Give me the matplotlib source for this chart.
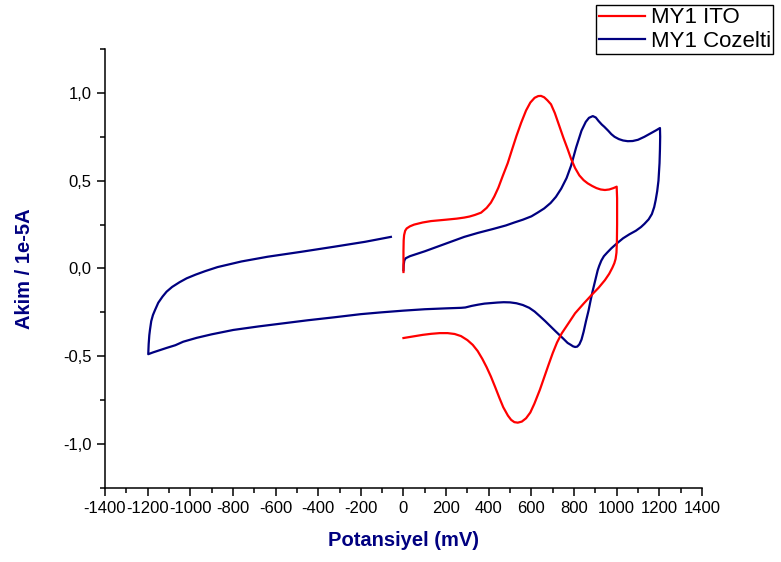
import matplotlib
matplotlib.use("Agg")
import matplotlib.pyplot as plt
from matplotlib.ticker import MultipleLocator, FuncFormatter

plt.rcParams["font.family"] = ["Liberation Sans", "DejaVu Sans"]
plt.rcParams["axes.unicode_minus"] = False

# ── MY1 ITO (0 -> 1000 -> 0 mV) ────────────────────────────────────────────
ito_x = [0, 0, 1, 3, 8, 15, 30, 50, 90, 129, 200, 250, 285, 310, 335, 364, 390,
         410, 426, 445, 465, 489, 510, 530, 552, 575, 595, 615, 632, 645, 660, 675,
         692, 710, 730, 750, 770, 786, 805, 825, 845, 864, 885, 905, 925, 945, 965,
         985, 1000,
         1002, 1002, 1001, 999, 995, 989, 980, 965, 945, 915, 883, 845, 805,
         775, 742, 720, 700, 680, 660, 640, 614, 595, 575, 555, 536, 520, 505, 490,
         468, 450, 430, 410, 390, 370, 348, 325, 300, 270, 240, 207, 170, 130, 90,
         45, 0]
ito_y = [-0.02, 0.10, 0.16, 0.19, 0.215, 0.228, 0.24, 0.25, 0.262, 0.27, 0.278,
         0.284, 0.29, 0.296, 0.305, 0.318, 0.345, 0.375, 0.41, 0.46, 0.525, 0.60,
         0.68, 0.755, 0.83, 0.90, 0.945, 0.972, 0.982, 0.983, 0.975, 0.958, 0.935,
         0.885, 0.815, 0.745, 0.68, 0.625, 0.572, 0.53, 0.503, 0.485, 0.47, 0.458,
         0.45, 0.447, 0.45, 0.458, 0.466,
         0.40, 0.25, 0.15, 0.09, 0.055, 0.03, 0.005, -0.03, -0.066, -0.11, -0.15,
         -0.20, -0.255, -0.31, -0.37, -0.422, -0.482, -0.55, -0.62, -0.69, -0.77,
         -0.82, -0.853, -0.872, -0.878, -0.875, -0.862, -0.838, -0.79, -0.737,
         -0.675, -0.615, -0.562, -0.515, -0.47, -0.435, -0.408, -0.385, -0.373,
         -0.368, -0.368, -0.372, -0.378, -0.387, -0.396]

# ── MY1 Cozelti (0 -> 1200 -> -1200 -> -60 mV) ─────────────────────────────
coz_x = [0, 1, 4, 10, 30, 60, 100, 150, 200, 285, 350, 420, 480, 520, 560, 600,
         629, 660, 690, 715, 740, 765, 786, 810, 835, 855, 870, 888, 902, 915, 930,
         942, 960, 975, 990, 1010, 1030, 1052, 1075, 1100, 1130, 1160, 1185, 1203,
         1204, 1203, 1201, 1196, 1190, 1183, 1176, 1165, 1150, 1130, 1114, 1090,
         1060, 1030, 1000, 975, 955, 940, 928, 918, 911, 903, 895, 887, 878, 868,
         856, 845, 835, 825, 815, 805, 795, 785, 770, 750, 730, 712, 690, 665, 640,
         615, 590, 560, 530, 500, 470, 440, 410, 380, 350, 320, 290, 270, 200, 100,
         0, -106, -200, -325, -450, -550, -680, -798, -900, -970, -1033, -1070,
         -1110, -1150, -1175, -1197,
         -1195, -1192, -1189, -1183, -1175, -1165, -1150, -1130, -1111, -1085,
         -1050, -1017, -975, -930, -872, -760, -637, -480, -325, -180, -59]
coz_y = [-0.01, 0.02, 0.045, 0.058, 0.07, 0.082, 0.098, 0.12, 0.142, 0.18, 0.203,
         0.225, 0.245, 0.262, 0.278, 0.297, 0.318, 0.342, 0.373, 0.408, 0.455, 0.515,
         0.585, 0.69, 0.785, 0.835, 0.858, 0.868, 0.86, 0.84, 0.82, 0.807, 0.785,
         0.765, 0.75, 0.737, 0.729, 0.725, 0.726, 0.733, 0.75, 0.77, 0.787, 0.80,
         0.75, 0.68, 0.60, 0.50, 0.44, 0.39, 0.35, 0.31, 0.28, 0.254, 0.236, 0.215,
         0.195, 0.172, 0.142, 0.115, 0.09, 0.07, 0.045, 0.015, -0.01, -0.05, -0.09,
         -0.13, -0.18, -0.24, -0.30, -0.36, -0.405, -0.432, -0.445, -0.447, -0.443,
         -0.435, -0.424, -0.40, -0.377, -0.356, -0.33, -0.30, -0.272, -0.245,
         -0.224, -0.208, -0.198, -0.193, -0.192, -0.194, -0.197, -0.20, -0.206,
         -0.213, -0.222, -0.224, -0.227, -0.232, -0.24, -0.25, -0.26, -0.278,
         -0.295, -0.31, -0.33, -0.35, -0.375, -0.395, -0.417, -0.437, -0.452,
         -0.468, -0.478, -0.488,
         -0.43, -0.38, -0.35, -0.30, -0.265, -0.236, -0.195, -0.16, -0.132, -0.105,
         -0.078, -0.056, -0.035, -0.015, 0.008, 0.04, 0.067, 0.095, 0.124, 0.152,
         0.18]

fig = plt.figure(figsize=(7.81, 5.62), dpi=100)
ax = fig.add_axes([0.1344, 0.1317, 0.7644, 0.7811])

ax.plot(coz_x, coz_y, color="#000080", lw=1.6, label="MY1 Cozelti", zorder=2)
ax.plot(ito_x, ito_y, color="#ff0000", lw=1.6, label="MY1 ITO", zorder=3)

ax.set_xlim(-1400, 1400)
ax.set_ylim(-1.25, 1.25)
ax.spines["top"].set_visible(False)
ax.spines["right"].set_visible(False)
for s in ("left", "bottom"):
    ax.spines[s].set_linewidth(1.1)

ax.xaxis.set_major_locator(MultipleLocator(200))
ax.xaxis.set_minor_locator(MultipleLocator(100))
ax.yaxis.set_major_locator(MultipleLocator(0.5))
ax.yaxis.set_minor_locator(MultipleLocator(0.25))
ax.xaxis.set_major_formatter(FuncFormatter(lambda v, p: f"{int(round(v))}"))
ax.yaxis.set_major_formatter(FuncFormatter(lambda v, p: f"{v:.1f}".replace(".", ",")))
ax.tick_params(which="major", direction="out", length=5.5, width=1.1, labelsize=12, pad=4)
ax.tick_params(which="minor", direction="out", length=3.5, width=1.1)

ax.set_xlabel("Potansiyel (mV)", fontsize=14.5, fontweight="bold", color="#000080", labelpad=11)
ax.set_ylabel("Akim / 1e-5A", fontsize=14.5, fontweight="bold", color="#000080", labelpad=21)

h, l = ax.get_legend_handles_labels()
leg = fig.legend(h[::-1], l[::-1], loc="upper right", bbox_to_anchor=(0.99, 0.991),
                 fontsize=16, frameon=True, fancybox=False, framealpha=1,
                 edgecolor="black", borderpad=0.1, borderaxespad=0,
                 handlelength=2.1, handletextpad=0.25, labelspacing=0.1)
leg.get_frame().set_linewidth(1.0)

fig.savefig("out.png", dpi=100)
